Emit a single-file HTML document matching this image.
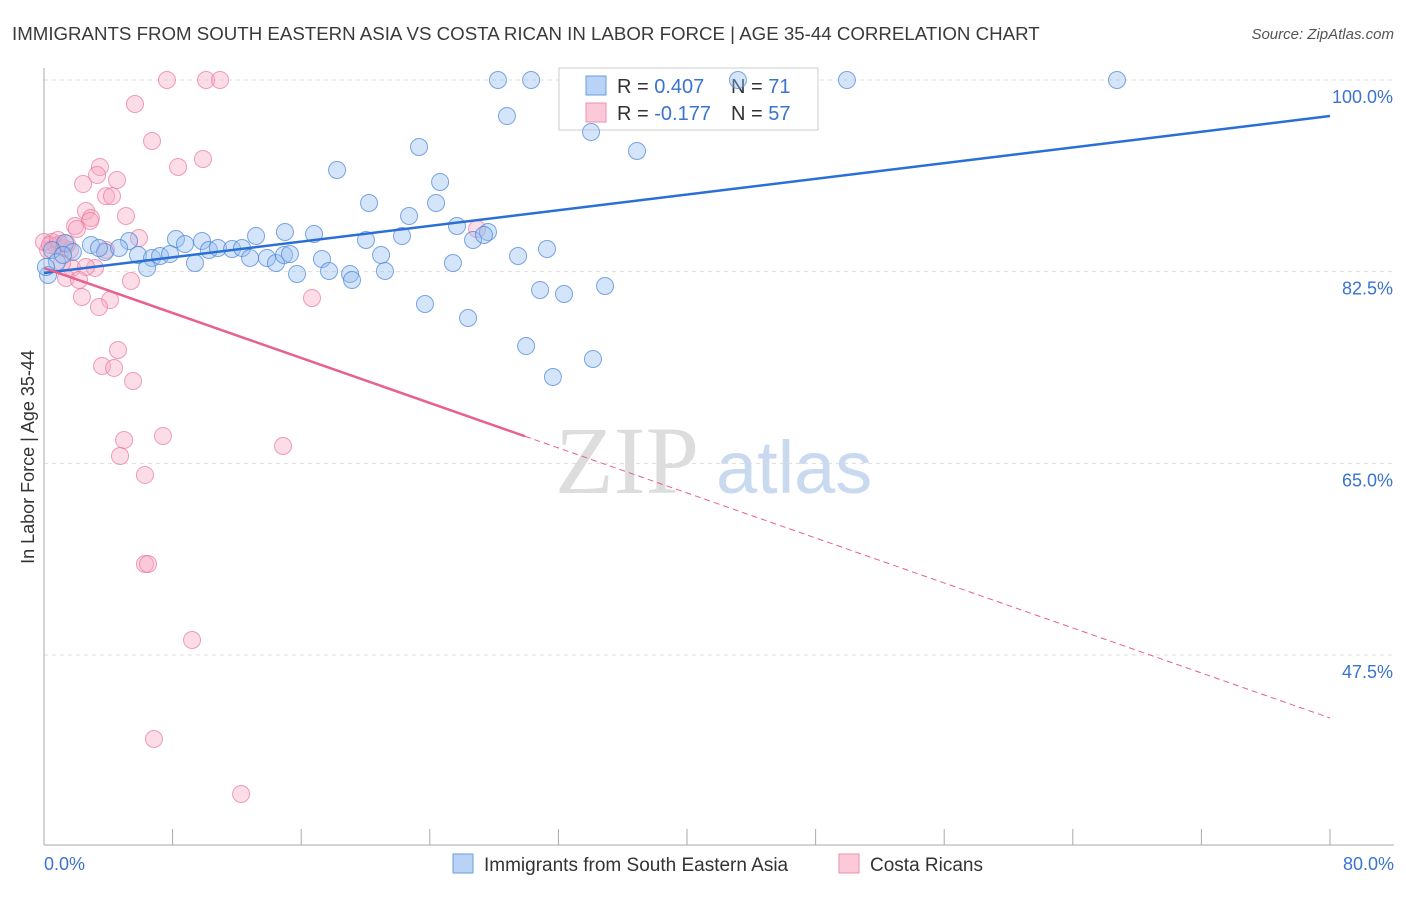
<!DOCTYPE html>
<html><head><meta charset="utf-8"><style>
body{margin:0;background:#fff;font-family:"Liberation Sans",sans-serif;}
</style></head><body>
<svg id="chart" width="1406" height="892" xmlns="http://www.w3.org/2000/svg">
<text x="12" y="40" font-size="18.7" fill="#3a3a3a">IMMIGRANTS FROM SOUTH EASTERN ASIA VS COSTA RICAN IN LABOR FORCE | AGE 35-44 CORRELATION CHART</text>
<text x="1394" y="39" font-size="15" fill="#555" text-anchor="end" font-style="italic">Source: ZipAtlas.com</text>
<text x="555" y="493" font-size="96" fill="#ddd" font-family="Liberation Serif,serif">ZIP</text>
<text x="716" y="493" font-size="74" fill="#c9d9ef">atlas</text>
<g id="grid"></g><g id="axes"></g>
<g>
<rect x="559" y="68" width="259" height="62" fill="#fff" stroke="#ccc"/>
<rect x="586" y="76" width="20" height="19" fill="#b8d3f5" stroke="#6a9ee0"/>
<rect x="586" y="103" width="20" height="19" fill="#fbc9d7" stroke="#ee8fab"/>
<text x="617" y="93" font-size="20" fill="#333">R = <tspan fill="#3a73d0">0.407</tspan><tspan x="731">N = </tspan><tspan fill="#3a73d0">71</tspan></text>
<text x="617" y="120" font-size="20" fill="#333">R = <tspan fill="#3a73d0">-0.177</tspan><tspan x="731">N = </tspan><tspan fill="#3a73d0">57</tspan></text>
</g>
<g id="pts"></g><g id="lines"></g>
<g>
<rect x="453" y="854" width="20" height="19" fill="#b8d3f5" stroke="#6a9ee0"/>
<text x="484" y="871" font-size="19" fill="#333">Immigrants from South Eastern Asia</text>
<rect x="839" y="854" width="20" height="19" fill="#fbc9d7" stroke="#ee8fab"/>
<text x="870" y="871" font-size="19" fill="#333">Costa Ricans</text>
</g>
</svg>
<script>
const yTicks=[100,82.5,65,47.5];
const yTickLabels=["100.0%","82.5%","65.0%","47.5%"];
const xLabels=["0.0%","80.0%"];
const blueX=[28.24,30.30,43.17,49.95,66.75,28.80,34.03,23.33,36.89,18.23,24.64,20.22,24.39,22.71,25.69,26.69,27.62,27.37,31.29,29.49,20.03,22.27,14.99,16.80,13.19,8.21,9.83,8.77,5.29,2.92,1.31,0.50,1.80,3.79,4.67,5.85,6.72,7.22,7.84,9.39,10.26,10.82,11.70,12.32,12.82,13.87,14.43,14.93,15.30,15.74,17.29,17.73,19.04,19.16,20.97,21.21,25.44,23.70,26.38,29.99,31.66,34.15,30.86,32.35,34.90,6.41,0.25,0.81,1.18,0.12,3.42];
const blueY=[100,100,100,100,100,96.71,95.25,93.88,93.52,91.78,90.69,88.77,88.77,87.58,86.67,85.39,86.12,85.85,84.57,83.93,85.39,85.76,86.12,85.94,85.76,85.48,85.30,85.03,85.30,84.94,85.12,84.48,84.30,84.30,84.66,84.02,83.75,83.93,84.11,83.29,84.48,84.66,84.57,84.66,83.75,83.75,83.29,84.02,84.11,82.29,83.66,82.56,82.29,81.74,84.02,82.56,83.29,79.55,78.27,75.71,72.88,74.53,80.83,80.46,81.19,82.84,82.20,83.38,84.02,82.93,84.66];
const pinkX=[7.65,10.08,10.95,5.66,6.72,9.89,8.34,3.48,3.30,4.54,2.43,3.86,4.23,5.10,2.61,2.92,2.86,1.93,2.05,5.91,26.94,0.50,0.75,0.99,1.24,1.62,0.25,3.86,3.17,1.74,2.61,1.12,1.37,2.18,5.41,2.36,4.11,3.42,16.67,4.60,3.61,4.36,5.54,4.98,7.40,4.73,14.87,6.28,6.28,6.47,9.21,6.84,12.26,0,0.37,0.87,1.43];
const pinkY=[100,100,100,97.81,94.43,92.79,92.06,92.06,91.33,90.87,90.50,89.40,89.40,87.58,88.04,87.40,87.13,86.67,86.40,85.57,86.40,85.21,84.84,85.03,84.66,84.48,84.48,84.48,82.84,82.84,82.93,83.29,81.92,81.74,81.65,80.19,79.91,79.27,80.10,75.35,73.89,73.71,72.52,67.13,67.50,65.67,66.58,63.94,55.81,55.81,48.87,39.83,34.81,85.21,84.94,85.39,85.03];
const blueTrend=[82.38,96.71];
const pinkTrend=[82.84,41.75];
const pinkSolidEnd=29.92;
const NS="http://www.w3.org/2000/svg";
const X=v=>44+v/80*1286;
const Y=v=>80+(100-v)*575/52.5;
function mk(p,t,a){const e=document.createElementNS(NS,t);for(const k in a)e.setAttribute(k,a[k]);p.appendChild(e);return e;}
const grid=document.getElementById('grid'),axes=document.getElementById('axes');
yTicks.forEach((t,i)=>{
 const g=mk(grid,'line',{x1:44,x2:1394,y1:Y(t),y2:Y(t),stroke:'#ddd','stroke-dasharray':'4,4'});
 
 
 const l=mk(axes,'text',{x:1393,y:Y(t)+23,'font-size':18,fill:'#3a73d0','text-anchor':'end'});
 l.textContent=yTickLabels[i];
 
 
});
let ax=mk(axes,'line',{x1:44,x2:44,y1:68,y2:845,stroke:'#aaa'});


ax=mk(axes,'line',{x1:44,x2:1394,y1:845,y2:845,stroke:'#aaa'});


for(let i=0;i<=10;i++){const t=mk(axes,'line',{x1:X(i*8),x2:X(i*8),y1:829,y2:845,stroke:'#aaa'});
 
 }
let xl=mk(axes,'text',{x:44,y:870,'font-size':18,fill:'#3a73d0'});xl.textContent=xLabels[0];


xl=mk(axes,'text',{x:1394,y:870,'font-size':18,fill:'#3a73d0','text-anchor':'end'});xl.textContent=xLabels[1];


const yt=mk(axes,'text',{x:34,y:457,'font-size':18,fill:'#333','text-anchor':'middle',transform:'rotate(-90 34 457)'});
yt.textContent='In Labor Force | Age 35-44';


const pts=document.getElementById('pts');
pinkX.forEach((v,i)=>{const c=mk(pts,'circle',{cx:X(v),cy:Y(pinkY[i]),r:8.5,fill:'rgba(248,170,195,0.4)',stroke:'rgba(232,120,155,0.7)','stroke-width':1});
 
 });
blueX.forEach((v,i)=>{const c=mk(pts,'circle',{cx:X(v),cy:Y(blueY[i]),r:8.5,fill:'rgba(150,190,240,0.4)',stroke:'rgba(70,130,215,0.7)','stroke-width':1});
 
 });
const lines=document.getElementById('lines');
let ln=mk(lines,'line',{x1:X(0),y1:Y(blueTrend[0]),x2:X(80),y2:Y(blueTrend[1]),stroke:'#2a6fd6','stroke-width':2.5});


const py=x=>pinkTrend[0]+(pinkTrend[1]-pinkTrend[0])*x/80;
ln=mk(lines,'line',{x1:X(0),y1:Y(py(0)),x2:X(pinkSolidEnd),y2:Y(py(pinkSolidEnd)),stroke:'#e8608c','stroke-width':2.5});


ln=mk(lines,'line',{x1:X(pinkSolidEnd),y1:Y(py(pinkSolidEnd)),x2:X(80),y2:Y(py(80)),stroke:'#e8608c','stroke-width':1,'stroke-dasharray':'6,4'});


</script>
</body></html>
